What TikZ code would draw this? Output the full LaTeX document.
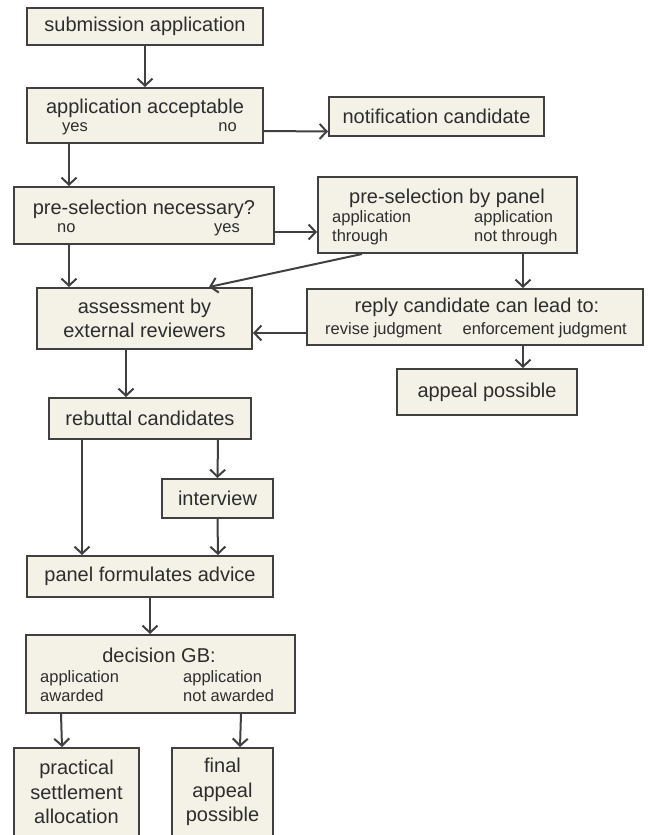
\documentclass[tikz,border=0pt]{standalone}
\usepackage{fontspec}
\setmainfont{Liberation Sans}
\usepackage{tikz}
\usetikzlibrary{arrows.meta}
\definecolor{fc_fill}{RGB}{244, 242, 230}
\definecolor{fc_line}{RGB}{64, 64, 64}
\definecolor{fc_text}{RGB}{45, 45, 45}
\newcommand{\mainsize}{\fontsize{20}{24.5}\selectfont}
\newcommand{\subsize}{\fontsize{16.5}{19}\selectfont}
\tikzstyle{bx}=[rectangle,fill=fc_fill,draw=fc_line,line width=2pt,
  inner sep=0pt,text=fc_text,font=\mainsize,align=center]
\tikzstyle{txt}=[inner sep=0pt,text=fc_text,font=\mainsize,align=center]
\tikzstyle{sub}=[inner sep=0pt,text=fc_text,font=\subsize]
\tikzstyle{arr}=[draw=fc_line,line width=2pt,
  -{Straight Barb[length=7pt,width=15pt,line width=2pt]}]
\tikzstyle{none}=[]

\begin{document}
\begin{tikzpicture}[x=1pt, y=-1pt]
    \useasboundingbox (0, 0) rectangle (650, 835);
    % boxes
    \node [style=bx, minimum width=236, minimum height=37] (0) at (145, 26.5) {submission application};
    \node [style=bx, minimum width=236, minimum height=55] (1) at (145, 115.5) {};
    \node [style=bx, minimum width=215, minimum height=39] (2) at (436.5, 116.5) {notification candidate};
    \node [style=bx, minimum width=260, minimum height=57] (3) at (144, 215.5) {};
    \node [style=bx, minimum width=259, minimum height=76] (4) at (447.5, 215) {};
    \node [style=bx, minimum width=215, minimum height=61] (5) at (144.5, 318.5) {assessment by\\external reviewers};
    \node [style=bx, minimum width=336, minimum height=56] (6) at (475, 317) {};
    \node [style=bx, minimum width=180, minimum height=46] (7) at (487, 392) {appeal possible};
    \node [style=bx, minimum width=202, minimum height=41] (8) at (150, 418.5) {rebuttal candidates};
    \node [style=bx, minimum width=111, minimum height=39] (9) at (217.5, 498.5) {interview};
    \node [style=bx, minimum width=246, minimum height=41] (10) at (150, 576.5) {panel formulates advice};
    \node [style=bx, minimum width=269, minimum height=78] (11) at (160.5, 674) {};
    \node [style=bx, minimum width=125, minimum height=102] (12) at (76.5, 799) {};
    \node [style=bx, minimum width=101, minimum height=102] (13) at (222.5, 799) {};

    % texts inside the boxes
    \node [style=txt, anchor=base] (1t) at (145, 113) {application acceptable};
    \node [style=sub, anchor=base west] (1a) at (62, 131) {yes};
    \node [style=sub, anchor=base east] (1b) at (237, 131) {no};
    \node [style=txt, anchor=base] (3t) at (144, 214) {pre-selection necessary?};
    \node [style=sub, anchor=base west] (3a) at (57, 232) {no};
    \node [style=sub, anchor=base east] (3b) at (240, 232) {yes};
    \node [style=txt, anchor=base] (4t) at (447, 203) {pre-selection by panel};
    \node [style=sub, anchor=base west] (4a) at (332, 222) {application};
    \node [style=sub, anchor=base west] (4b) at (332, 241) {through};
    \node [style=sub, anchor=base west] (4c) at (474, 222) {application};
    \node [style=sub, anchor=base west] (4d) at (474, 241) {not through};
    \node [style=txt, anchor=base] (6t) at (477, 312) {reply candidate can lead to:};
    \node [style=sub, anchor=base west] (6a) at (325, 334) {revise judgment};
    \node [style=sub, anchor=base east] (6b) at (627, 334) {enforcement judgment};
    \node [style=txt, anchor=base] (11t) at (159, 662) {decision GB:};
    \node [style=sub, anchor=base west] (11a) at (40, 682) {application};
    \node [style=sub, anchor=base west] (11b) at (40, 701) {awarded};
    \node [style=sub, anchor=base west] (11c) at (183, 682) {application};
    \node [style=sub, anchor=base west] (11d) at (183, 701) {not awarded};
    \node [style=txt] (12t) at (76.5, 792) {practical\\settlement\\allocation};
    \node [style=txt] (13t) at (222.5, 792) {final\\appeal\\possible};

    % arrows
    \draw [style=arr] (0.south) to (1.north);
    \draw [style=arr] ([xshift=43pt]1.south west) to ([xshift=56pt]3.north west);
    \draw [style=arr] ([yshift=-15.5pt]1.east) to ([yshift=-15pt]2.west);
    \draw [style=arr] ([yshift=-16.5pt]3.east) to ([yshift=-17pt]4.west);
    \draw [style=arr] ([xshift=56pt]3.south west) to ([xshift=33pt]5.north west);
    \draw [style=arr] ([xshift=45pt]4.south west) to ([xshift=-44pt]5.north east);
    \draw [style=arr] ([xshift=-55pt]4.south east) to ([xshift=-121pt]6.north east);
    \draw [style=arr] ([yshift=-16pt]6.west) to ([yshift=-14.5pt]5.east);
    \draw [style=arr] ([xshift=-121pt]6.south east) to ([xshift=-55pt]7.north east);
    \draw [style=arr] ([xshift=90pt]5.south west) to ([xshift=78pt]8.north west);
    \draw [style=arr] ([xshift=34pt]8.south west) to ([xshift=56pt]10.north west);
    \draw [style=arr] ([xshift=-34pt]8.south east) to (9.north);
    \draw [style=arr] (9.south) to ([xshift=-56pt]10.north east);
    \draw [style=arr] (10.south) to ([xshift=-10.5pt]11.north);
    \draw [style=arr] ([xshift=36pt]11.south west) to ([xshift=-14.5pt]12.north);
    \draw [style=arr] ([xshift=-55pt]11.south east) to ([xshift=17.5pt]13.north);
\end{tikzpicture}
\end{document}
